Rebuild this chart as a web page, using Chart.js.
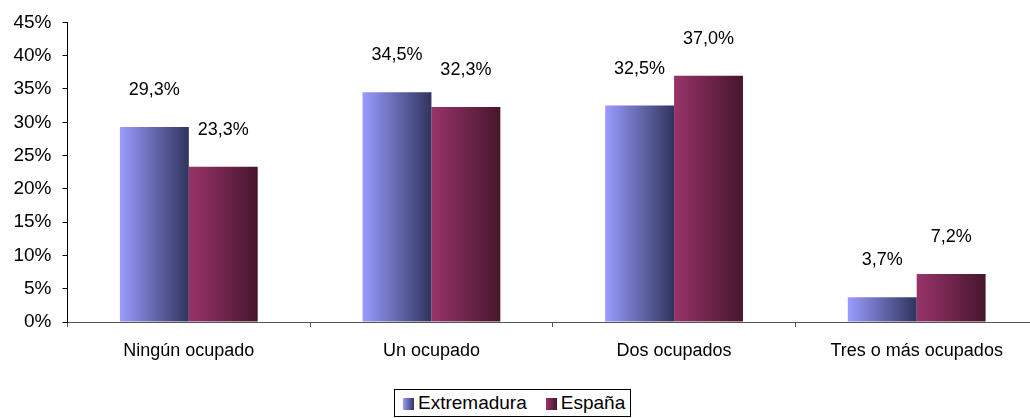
<!DOCTYPE html>
<html><head><meta charset="utf-8">
<script src="https://cdn.jsdelivr.net/npm/chart.js@4/dist/chart.umd.min.js"></script>
<style>
html,body{margin:0;padding:0;background:#fff;overflow:hidden;}
#wrap{position:relative;width:1030px;height:418px;overflow:hidden;}
#c{position:absolute;left:0;top:0;}
#legend{position:absolute;left:394px;top:389px;width:237px;height:28px;border:1px solid #000;box-sizing:border-box;font-family:"Liberation Sans",Arial,sans-serif;font-size:19px;display:flex;align-items:center;padding-left:8px;color:#000;background:#fff;}
.sw{display:inline-block;width:11px;height:12px;margin-right:4px;margin-top:2px;}
.it{display:flex;align-items:center;margin-right:19px;}
</style></head>
<body><div id="wrap"><canvas id="c" width="1042" height="418"></canvas>
<div id="legend"></div></div>
<script>
const categories = ["Ningún ocupado", "Un ocupado", "Dos ocupados", "Tres o más ocupados"];
const extremadura = [29.3, 34.5, 32.5, 3.7];
const espana = [23.3, 32.3, 37.0, 7.2];
const seriesNames = ["Extremadura", "España"];
const yTicks = [0, 5, 10, 15, 20, 25, 30, 35, 40, 45];

const grads = [["#9a9cff", "#30345c"], ["#99336a", "#46162c"]];
const FONT = '"Liberation Sans", Arial, sans-serif';

const gradPlugin = {
  id: 'grad',
  beforeDatasetsDraw(chart) {
    const ctx = chart.ctx;
    chart.data.datasets.forEach((ds, di) => {
      const meta = chart.getDatasetMeta(di);
      meta.data.forEach(el => {
        const l = el.x - el.width / 2, r = el.x + el.width / 2;
        const g = ctx.createLinearGradient(l, 0, r, 0);
        g.addColorStop(0, grads[di][0]);
        g.addColorStop(1, grads[di][1]);
        el.options.backgroundColor = g;
      });
    });
  },
  afterDatasetsDraw(chart) {
    const ctx = chart.ctx;
    ctx.save();
    ctx.font = '18px ' + FONT;
    ctx.fillStyle = '#000';
    ctx.textAlign = 'center';
    ctx.textBaseline = 'middle';
    chart.data.datasets.forEach((ds, di) => {
      const meta = chart.getDatasetMeta(di);
      meta.data.forEach((el, i) => {
        const v = ds.data[i];
        ctx.fillText(v.toFixed(1).replace('.', ',') + '%', el.x, el.y - 37);
      });
    });
    ctx.restore();
  }
};

const chart = new Chart(document.getElementById('c'), {
  type: 'bar',
  data: {
    labels: categories,
    datasets: [
      { label: seriesNames[0], data: extremadura, backgroundColor: (c) => grads[0][0] },
      { label: seriesNames[1], data: espana, backgroundColor: (c) => grads[1][0] }
    ]
  },
  options: {
    responsive: false,
    animation: false,
    devicePixelRatio: 1,
    layout: { padding: { left: 0, right: 4, top: 21, bottom: 36 } },
    datasets: { bar: { categoryPercentage: 0.568, barPercentage: 1.0 } },
    plugins: { legend: { display: false }, tooltip: { enabled: false } },
    scales: {
      x: {
        grid: { display: true, drawOnChartArea: false, offset: true, tickLength: 5, color: '#555' },
        border: { color: '#555', width: 1 },
        ticks: { color: '#000', font: { family: FONT, size: 18 }, padding: 13, maxRotation: 0 },
        afterFit(s) { s.height = 60; }
      },
      y: {
        min: 0, max: 45,
        afterBuildTicks(s) { s.ticks = yTicks.map(v => ({ value: v })); },
        grid: { display: true, drawOnChartArea: false, tickLength: 5, color: '#000' },
        border: { color: '#000', width: 1 },
        ticks: { color: '#000', font: { family: FONT, size: 19 }, padding: 11, callback: v => v + '%' },
        afterFit(s) { s.width = 67.5; }
      }
    }
  },
  plugins: [gradPlugin]
});

const lg = document.getElementById('legend');
seriesNames.forEach((n, i) => {
  const d = document.createElement('span');
  d.className = 'it';
  d.innerHTML = '<span class="sw" style="background:linear-gradient(to right,' + grads[i][0] + ',' + grads[i][1] + ')"></span>' + n;
  lg.appendChild(d);
});
</script></body></html>
